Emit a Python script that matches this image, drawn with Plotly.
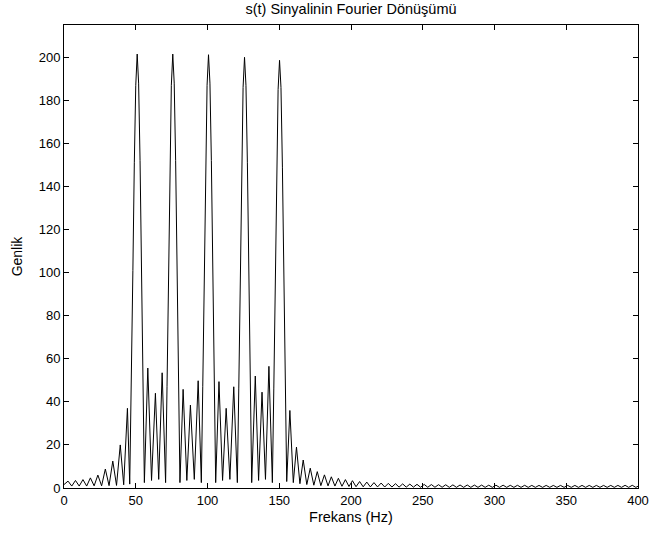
import plotly.graph_objects as go

# ---- data (frequency in Hz, magnitude) ----
freq_low = [0, 2.8, 5.4, 8.0, 10.6, 13.2, 15.8, 18.4, 21.0, 23.6, 26.2, 28.8,
            31.4, 34.0, 36.6, 39.2, 41.6, 44.2, 45.8]
amp_low = [1.6, 3.2, 0.9, 3.5, 0.9, 3.9, 0.9, 4.7, 1.0, 6.0, 1.0, 8.8,
           1.1, 12.5, 1.2, 20.0, 1.5, 37.0, 1.8]

freq_band = [47.0, 48.0, 49.0, 50.0, 51.0, 52.0, 53.0, 54.0, 55.0, 56.0,
             58.4, 61.0, 63.7, 66.0, 68.4, 70.8,
             71.8, 72.8, 73.8, 74.8, 75.8, 76.8, 77.8, 78.8, 79.8, 80.8,
             83.0, 85.6, 88.1, 90.8, 93.5, 95.7,
             96.7, 97.7, 98.7, 99.7, 100.7, 101.7, 102.7, 103.7, 104.7, 105.7,
             108.0, 110.5, 113.0, 115.6, 118.3, 120.8,
             121.8, 122.8, 123.8, 124.8, 125.8, 126.8, 127.8, 128.8, 129.8, 130.8,
             133.3, 135.6, 138.0, 140.4, 142.8, 145.2,
             146.2, 147.2, 148.2, 149.2, 150.2, 151.2, 152.2, 153.2, 154.2, 155.2]
amp_band = [47, 101, 151, 187, 201.5, 188, 152, 101, 47, 2.5,
            55.7, 3.5, 44.0, 4.0, 53.5, 2.5,
            47, 101, 151, 187, 201.5, 188, 152, 101, 47, 2.5,
            45.8, 3.5, 38.5, 4.0, 49.8, 2.5,
            47, 101, 151, 187, 201.2, 188, 152, 101, 47, 2.5,
            49.4, 3.5, 37.0, 4.0, 47.0, 2.5,
            46, 100, 150, 186, 200.0, 187, 151, 100, 46, 2.5,
            52.0, 3.5, 44.5, 4.0, 56.5, 2.5,
            46, 99, 150, 185, 198.6, 186, 149, 99, 45, 3.0]

freq_high = [157.4, 159.8, 162.0, 164.4, 166.7, 169.2, 171.6, 174.1, 176.5, 179.0,
             181.5, 184.0, 186.3, 188.8, 191.2, 193.7, 196.1, 198.6, 201.0, 203.5]
amp_high = [36.0, 2.5, 19.0, 2.0, 13.0, 1.6, 9.2, 1.3, 7.6, 1.1,
            6.1, 1.0, 5.2, 0.9, 4.5, 0.8, 3.9, 0.7, 3.4, 0.6]

freq_tail = [206, 208.5, 211, 213.5, 216, 218.5, 221, 223.5, 226, 228.5, 231, 233.5,
             236, 238.5, 241, 243.5, 246, 248.5, 251, 253.5, 256, 258.5, 261, 263.5,
             266, 268.5, 271, 273.5, 276, 278.5, 281, 283.5, 286, 288.5, 291, 293.5,
             296, 298.5, 301, 303.5, 306, 308.5, 311, 313.5, 316, 318.5, 321, 323.5,
             326, 328.5, 331, 333.5, 336, 338.5, 341, 343.5, 346, 348.5, 351, 353.5,
             356, 358.5, 361, 363.5, 366, 368.5, 371, 373.5, 376, 378.5, 381, 383.5,
             386, 388.5, 391, 393.5, 396, 398.5, 400]
amp_tail = [3.0, 0.55, 2.75, 0.5, 2.5, 0.5, 2.3, 0.45, 2.15, 0.45, 2.0, 0.4,
            1.9, 0.4, 1.8, 0.4, 1.7, 0.35, 1.65, 0.35, 1.6, 0.35, 1.55, 0.35,
            1.5, 0.3, 1.45, 0.3, 1.4, 0.3, 1.4, 0.3, 1.35, 0.3, 1.35, 0.3,
            1.3, 0.3, 1.3, 0.3, 1.3, 0.3, 1.25, 0.3, 1.25, 0.3, 1.25, 0.3,
            1.2, 0.3, 1.2, 0.3, 1.2, 0.3, 1.2, 0.3, 1.2, 0.3, 1.2, 0.3,
            1.2, 0.3, 1.2, 0.3, 1.2, 0.3, 1.2, 0.3, 1.2, 0.3, 1.2, 0.3,
            1.2, 0.3, 1.25, 0.3, 1.25, 0.3, 0.8]

x_ticks = [0, 50, 100, 150, 200, 250, 300, 350, 400]
y_ticks = [0, 20, 40, 60, 80, 100, 120, 140, 160, 180, 200]

title_text = "s(t) Sinyalinin Fourier Dönüşümü"
x_title = "Frekans (Hz)"
y_title = "Genlik"

freq = freq_low + freq_band + freq_high + freq_tail
amp = amp_low + amp_band + amp_high + amp_tail

fig = go.Figure()
fig.add_trace(go.Scatter(x=freq, y=amp, mode="lines",
                         line=dict(color="black", width=1),
                         hoverinfo="x+y"))

font_family = "Liberation Sans, Arial, sans-serif"
fig.update_layout(
    width=650, height=538,
    margin=dict(l=64, r=12, t=25, b=50, autoexpand=False),
    paper_bgcolor="white", plot_bgcolor="white",
    showlegend=False,
    font=dict(family=font_family, size=13, color="black"),
    title=dict(text=title_text, x=0.5, xref="paper", xanchor="center",
               y=1 - 9 / 538, yref="container", yanchor="middle",
               font=dict(family=font_family, size=14.5, color="black")),
)
fig.update_xaxes(range=[0, 400], tickvals=x_ticks, ticks="inside", ticklen=5,
                 tickcolor="black", showline=True, linecolor="black", linewidth=1,
                 mirror="ticks", showgrid=False, zeroline=False, automargin=False,
                 title=dict(text=x_title, standoff=5,
                            font=dict(family=font_family, size=14.5)))
fig.update_yaxes(range=[0, 215], tickvals=y_ticks, ticks="inside", ticklen=5,
                 tickcolor="black", showline=True, linecolor="black", linewidth=1,
                 mirror="ticks", showgrid=False, zeroline=False, automargin=False,
                 title=dict(text=y_title, standoff=12,
                            font=dict(family=font_family, size=14)))

fig.write_html("out.html")
